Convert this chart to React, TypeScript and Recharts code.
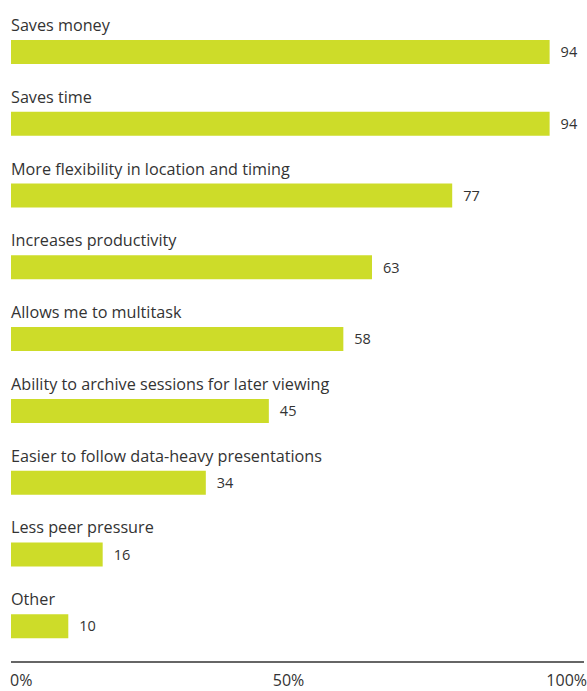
import { BarChart, Bar, XAxis, YAxis, LabelList } from 'recharts'

const categories = [
  'Saves money',
  'Saves time',
  'More flexibility in location and timing',
  'Increases productivity',
  'Allows me to multitask',
  'Ability to archive sessions for later viewing',
  'Easier to follow data-heavy presentations',
  'Less peer pressure',
  'Other',
]
const values = [94, 94, 77, 63, 58, 45, 34, 16, 10]
const tickValues = [0, 50, 100]

const BAR_COLOR = '#cddc29'
const TEXT_COLOR = '#333333'
const FONT = '"Open Sans", sans-serif'

const data = categories.map((name, i) => ({ name, value: values[i] }))

function CategoryLabel(props: any) {
  const { x, y, value } = props
  return (
    <text x={x} y={y - 9} fill={TEXT_COLOR} fontSize={16.2} fontFamily={FONT}>
      {value}
    </text>
  )
}

function ValueLabel(props: any) {
  const { x, y, width, height, value } = props
  return (
    <text
      x={x + width + 11}
      y={y + height / 2}
      dy="0.36em"
      fill={TEXT_COLOR}
      fontSize={14.5}
      fontFamily={FONT}
    >
      {value}
    </text>
  )
}

function PercentTick(props: any) {
  const { x, y, payload } = props
  const v = payload.value
  const anchor = v === 0 ? 'start' : v === 100 ? 'end' : 'middle'
  const dx = v === 0 ? -1 : v === 100 ? 3 : -9
  return (
    <text
      x={x + dx}
      y={y + 16}
      textAnchor={anchor}
      fill={TEXT_COLOR}
      fontSize={16}
      fontFamily={FONT}
    >
      {`${v}%`}
    </text>
  )
}

export default function App() {
  return (
    <div style={{ width: 587, height: 691, background: '#fff' }}>
      <style>{'body{margin:0}'}</style>
      <BarChart
        width={587}
        height={691}
        data={data}
        layout="vertical"
        margin={{ top: 16, right: 3, bottom: 0, left: 11 }}
        barSize={24}
      >
        <XAxis
          type="number"
          domain={[0, 100]}
          ticks={tickValues}
          interval={0}
          tick={<PercentTick />}
          tickLine={false}
          axisLine={{ stroke: TEXT_COLOR, strokeWidth: 1.5 }}
          height={29}
        />
        <YAxis type="category" dataKey="name" hide />
        <Bar dataKey="value" fill={BAR_COLOR} isAnimationActive={false}>
          <LabelList dataKey="name" content={<CategoryLabel />} />
          <LabelList dataKey="value" content={<ValueLabel />} />
        </Bar>
      </BarChart>
    </div>
  )
}
